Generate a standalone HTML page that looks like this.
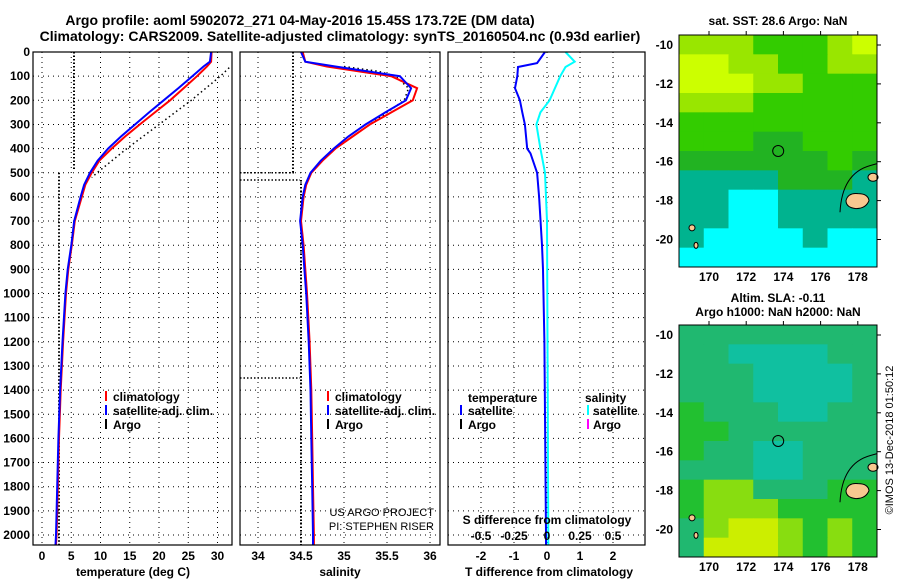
<!DOCTYPE html>
<html><head><meta charset="utf-8"><style>
body{margin:0;background:#fff;}
svg{display:block;font-family:"Liberation Sans",sans-serif;font-weight:bold;}
</style></head><body>
<svg id="c" width="900" height="580" viewBox="0 0 900 580"></svg>
<script>
// ---- data ----
const depthTicks=[0,100,200,300,400,500,600,700,800,900,1000,1100,1200,1300,1400,1500,1600,1700,1800,1900,2000];
const tempTicks=[0,5,10,15,20,25,30];
const salTicks=[34,34.5,35,35.5,36];
const salTickLabels=["34","34.5","35","35.5","36"];
const tdTicks=[-2,-1,0,1,2];
const sdTickLabels=["-0.5","-0.25","0","0.25","0.5"];
const sdTicks=[-0.5,-0.25,0,0.25,0.5];
const profDepth=[0,40,60,100,150,200,250,300,350,400,450,500,550,600,700,800,900,1000,1200,1400,1600,1800,2000,2040];
const tempClim=[29,28.9,28.2,26.5,24.2,21.9,19.3,16.7,14.2,11.9,9.8,8.5,7.4,6.8,5.6,5.1,4.5,4.1,3.6,3.2,2.9,2.7,2.5,2.4];
const tempSat=[28.9,28.7,27.6,25.7,23.3,20.8,18.3,15.9,13.5,11.3,9.5,8.2,7.2,6.6,5.5,5.0,4.4,4.0,3.5,3.1,2.8,2.6,2.4,2.3];
const salClim=[34.52,34.55,34.8,35.55,35.85,35.8,35.55,35.3,35.1,34.9,34.75,34.62,34.56,34.53,34.5,34.53,34.55,34.57,34.6,34.62,34.63,34.64,34.65,34.65];
const salSat=[34.5,34.55,34.9,35.65,35.78,35.72,35.48,35.25,35.05,34.88,34.73,34.61,34.55,34.52,34.49,34.52,34.54,34.56,34.59,34.61,34.62,34.63,34.64,34.64];
const argoTDepth=[65,100,200,300,400,500,520];
const argoTVal=[32,30.5,25.5,20,14.5,9.4,8.5];
const argoSDepth=[60,80,100,150,200,300,400,450];
const argoSVal=[35.0,35.4,35.6,35.75,35.7,35.3,34.9,34.75];
const tdiffDepth=[0,46,62,100,150,200,250,300,400,420,500,600,800,900,1200,2000,2040];
const tdiff=[-0.06,-0.3,-0.88,-0.9,-0.97,-0.82,-0.75,-0.67,-0.6,-0.5,-0.3,-0.24,-0.15,-0.12,-0.08,-0.03,-0.03];
const sdiffDepth=[0,40,62,100,200,250,300,400,500,700,2000,2040];
const sdiff=[0.14,0.21,0.14,0.1,0.02,-0.05,-0.08,-0.05,-0.015,0,0.01,0.01];
const lonTicks=[170,172,174,176,178];
const latTicks=[-10,-12,-14,-16,-18,-20];
const sstGrid=[
[1,1,1,2,2,2,1,0],[0,0,1,1,2,2,1,1],[0,0,0,1,1,2,2,2],[1,1,1,2,2,2,2,2],
[2,2,2,2,2,2,2,2],[2,2,2,3,3,2,2,2],[3,3,3,3,3,3,2,3],[4,4,4,4,3,3,3,4],
[4,4,5,5,4,4,4,4],[4,4,5,5,4,4,4,4],[4,5,5,5,5,4,5,5],[5,5,5,5,5,5,5,5]];
const slaGrid=[
[1,1,1,1,1,1,1,1],[1,1,0,0,0,0,1,1],[1,1,1,0,0,0,0,1],[1,1,1,0,0,0,0,1],
[2,1,1,1,0,0,1,1],[2,2,1,1,1,1,1,1],[2,1,1,0,0,1,1,1],[1,1,1,0,0,1,1,1],
[2,3,3,1,1,1,2,2],[2,3,3,3,2,2,2,2],[1,3,4,4,3,2,3,2],[1,4,4,4,3,2,3,2]];
const sstColors=["#ccff00","#99e600","#33cc00","#22b322","#00b38f","#00ffff"];
const slaColors=["#10c0a0","#20b870","#22c030","#88dd10","#ccee00"];

// ---- helpers ----
const S=document.getElementById('c');const NS="http://www.w3.org/2000/svg";
function el(t,a,txt){const e=document.createElementNS(NS,t);for(const k in a)e.setAttribute(k,a[k]);if(txt!==undefined)e.textContent=txt;S.appendChild(e);return e;}
const Y0=52,Y1=545;
const yD=d=>Y0+d*0.2415;
const P1={x0:33,x1:232,f:v=>42+v*5.85};
const P2={x0:240,x1:440,f:v=>258+(v-34)*86};
const P3={x0:448,x1:645,f:v=>547+v*33,g:v=>547+v*132};
function frame(p,name){
 const r=el('rect',{x:p.x0,y:Y0,width:p.x1-p.x0,height:Y1-Y0,fill:'none',stroke:'#000','stroke-width':1.2});
 
}
function hgrid(p){depthTicks.forEach(d=>{const l=el('line',{x1:p.x0,x2:p.x1,y1:yD(d),y2:yD(d),stroke:'#000','stroke-dasharray':'1 4'});});}
function vgrid(xs){xs.forEach(x=>{const l=el('line',{x1:x,x2:x,y1:Y0,y2:Y1,stroke:'#000','stroke-dasharray':'1 4'});});}
function line(xs,ds,fx,col,w,dash,name){
 const pts=xs.map((v,i)=>fx(v).toFixed(1)+','+yD(ds[i]).toFixed(1)).join(' ');
 const a={points:pts,fill:'none',stroke:col,'stroke-width':w};if(dash)a['stroke-dasharray']=dash;
 const p=el('polyline',a);
}
function txt(x,y,s,size,anchor,name){const t=el('text',{x:x,y:y,'font-size':size,'text-anchor':anchor||'start'},s);return t;}
function vdot(x,d0,d1,name){const l=el('line',{x1:x,x2:x,y1:yD(d0),y2:yD(d1),stroke:'#000','stroke-width':2,'stroke-dasharray':'1.5 2'});}
function hdot(x0,x1,y,name){const l=el('line',{x1:x0,x2:x1,y1:y,y2:y,stroke:'#000','stroke-width':1.5,'stroke-dasharray':'1.5 2'});}

// titles
txt(300,25,"Argo profile: aoml 5902072_271 04-May-2016 15.45S 173.72E (DM data)",14,'middle','figure-title');
txt(340,41,"Climatology: CARS2009. Satellite-adjusted climatology: synTS_20160504.nc (0.93d earlier)",14,'middle','figure-subtitle');

// panel 1 temperature
hgrid(P1);vgrid(tempTicks.map(P1.f));
depthTicks.forEach(d=>txt(30,yD(d)+4,String(d),12,'end','depth-tick-label'));
tempTicks.forEach(v=>txt(P1.f(v),560,String(v),12,'middle','temp-tick-label'));
txt(133,576,"temperature (deg C)",12,'middle','temp-axis-title');
vdot(74,0,490,'argo-temp-dots');vdot(59,500,2040,'argo-temp-dots-deep');
line(argoTVal,argoTDepth,P1.f,'#000',1.5,'1.5 3','argo-temp-profile');
line(tempClim,profDepth,P1.f,'#ff0000',2,null,'temp-climatology-line');
line(tempSat,profDepth,P1.f,'#0000ff',2,null,'temp-satellite-line');
frame(P1,'temperature-panel');
[['#ff0000','climatology',401],['#0000ff','satellite-adj. clim.',415],['#000','Argo',429]].forEach(([c,s,y])=>{
 const r=el('rect',{x:105,y:y-10,width:2,height:10,fill:c});
 txt(113,y,s,12,'start','legend-entry');});

// panel 2 salinity
hgrid(P2);vgrid(salTicks.map(P2.f));
salTicks.forEach((v,i)=>txt(P2.f(v),560,salTickLabels[i],12,'middle','salinity-tick-label'));
txt(340,576,"salinity",12,'middle','salinity-axis-title');
vdot(293,0,500,'argo-sal-dots');vdot(301,530,2040,'argo-sal-dots-deep');
hdot(240,295,yD(500),'argo-sal-dots-h');hdot(240,300,yD(530),'argo-sal-dots-h2');hdot(240,300,yD(1350),'argo-sal-dots-h3');
line(argoSVal,argoSDepth,P2.f,'#000',1.5,'1.5 3','argo-salinity-profile');
line(salClim,profDepth,P2.f,'#ff0000',2,null,'salinity-climatology-line');
line(salSat,profDepth,P2.f,'#0000ff',2,null,'salinity-satellite-line');
frame(P2,'salinity-panel');
[['#ff0000','climatology',401],['#0000ff','satellite-adj. clim.',415],['#000','Argo',429]].forEach(([c,s,y])=>{
 const r=el('rect',{x:327,y:y-10,width:2,height:10,fill:c});
 txt(335,y,s,12,'start','legend-entry');});
txt(434,516,"US ARGO PROJECT",11,'end','project-label').setAttribute('font-weight','normal');
txt(434,530,"PI: STEPHEN RISER",11,'end','pi-label').setAttribute('font-weight','normal');

// panel 3 differences
hgrid(P3);vgrid(tdTicks.map(P3.f));
line(sdiff,sdiffDepth,P3.g,'#00ffff',2,null,'salinity-diff-line');
line(tdiff,tdiffDepth,P3.f,'#0000ff',2,null,'temperature-diff-line');
frame(P3,'difference-panel');
tdTicks.forEach(v=>txt(P3.f(v),560,String(v),12,'middle','tdiff-tick-label'));
sdTicks.forEach((v,i)=>txt(P3.g(v),540,sdTickLabels[i],12,'middle','sdiff-tick-label'));
txt(547,524,"S difference from climatology",12,'middle','sdiff-axis-title');
txt(549,576,"T difference from climatology",12,'middle','tdiff-axis-title');
txt(468,402,"temperature",12,'start','legend-heading');txt(585,402,"salinity",12,'start','legend-heading');
[['#0000ff','satellite',415],['#000','Argo',429]].forEach(([c,s,y])=>{
 const r=el('rect',{x:460,y:y-10,width:2,height:10,fill:c});
 txt(468,y,s,12,'start','legend-entry');});
[['#00ffff','satellite',415],['#ff00ff','Argo',429]].forEach(([c,s,y])=>{
 const r=el('rect',{x:587,y:y-10,width:2,height:10,fill:c});
 txt(593,y,s,12,'start','legend-entry');});

// maps
const lonX=v=>709+(v-170)*18.6;
function map(y0,grid,cols,name){
 const M={x0:679,x1:877,y0:y0,y1:y0+232};
 const latY=v=>y0+10+(-10-v)*19.45;
 const rows=grid.length,nc=grid[0].length,cw=(M.x1-M.x0)/nc,ch=(M.y1-M.y0)/rows;
 grid.forEach((row,i)=>row.forEach((v,j)=>{const r=el('rect',{x:M.x0+j*cw,y:M.y0+i*ch,width:cw+0.5,height:ch+0.5,fill:cols[v]});}));
 const eez=el('path',{d:`M840 ${latY(-18.6)} Q842 ${latY(-16.6)} 870 ${latY(-16.2)} L877 ${latY(-16.1)}`,fill:'none',stroke:'#000'});
 const fy=latY(-18);
 const l1=el('path',{d:`M846 ${fy} Q848 ${fy-8} 858 ${fy-7} Q868 ${fy-7} 869 ${fy} Q866 ${fy+8} 856 ${fy+8} Q846 ${fy+7} 846 ${fy} Z`,fill:'#f8c890',stroke:'#000','stroke-width':1});
 const l2=el('ellipse',{cx:873,cy:latY(-16.8),rx:5,ry:4,fill:'#f8c890',stroke:'#000','stroke-width':1});
 const l3=el('ellipse',{cx:692,cy:latY(-19.4),rx:3,ry:3,fill:'#f8c890',stroke:'#000','stroke-width':1});
 const l4=el('ellipse',{cx:696,cy:latY(-20.3),rx:2,ry:3,fill:'#f8c890',stroke:'#000','stroke-width':1});
 const c=el('circle',{cx:lonX(173.72),cy:latY(-15.45),r:5.5,fill:'none',stroke:'#000','stroke-width':1});
 const f=el('rect',{x:M.x0,y:M.y0,width:M.x1-M.x0,height:M.y1-M.y0,fill:'none',stroke:'#000'});
 latTicks.forEach(v=>{txt(673,latY(v)+4,String(v),12,'end','lat-tick-label');
  const t=el('line',{x1:M.x1,x2:M.x1+4,y1:latY(v),y2:latY(v),stroke:'#000'});});
 lonTicks.forEach(v=>{txt(lonX(v),M.y1+14,String(v),12,'middle','lon-tick-label');
  const t=el('line',{x1:lonX(v),x2:lonX(v),y1:M.y0,y2:M.y0-4,stroke:'#000'});});
}
map(35,sstGrid,sstColors,'sst-map');
txt(778,25,"sat. SST: 28.6 Argo: NaN",12,'middle','sst-map-title');
map(325,slaGrid,slaColors,'sla-map');
txt(778,302,"Altim. SLA: -0.11",12,'middle','sla-map-title');
txt(778,316,"Argo h1000: NaN h2000: NaN",12,'middle','sla-map-subtitle');
const cp=txt(0,0,"©IMOS 13-Dec-2018 01:50:12",11,'middle','copyright-label');
cp.setAttribute('font-weight','normal');
cp.setAttribute('transform','translate(893,440) rotate(-90)');
</script>
</body></html>
